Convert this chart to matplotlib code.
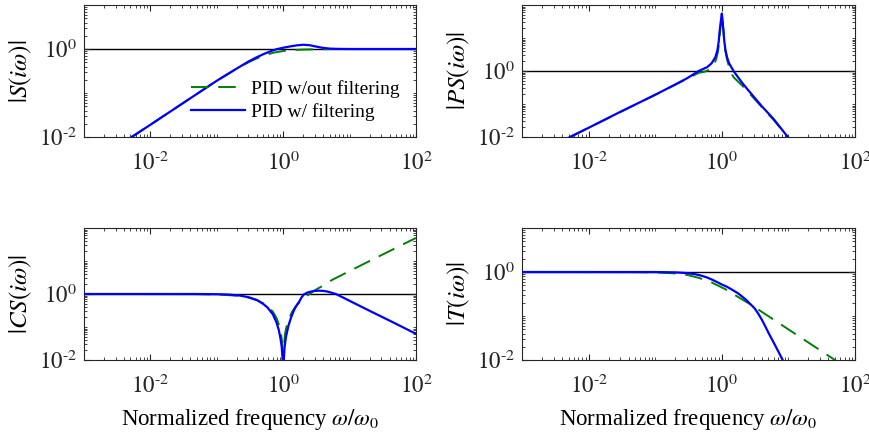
import matplotlib
matplotlib.use("Agg")
import matplotlib.pyplot as plt
from matplotlib.ticker import LogLocator, NullFormatter, FixedLocator, FuncFormatter
import math

plt.rcParams['font.family'] = ['Liberation Serif', 'DejaVu Serif']
plt.rcParams['mathtext.fontset'] = 'stix'

# ---------------- data ----------------
# |S(iw)|
w_S_f = [0.001, 0.005, 0.01, 0.02, 0.05, 0.1, 0.2, 0.3, 0.4, 0.5, 0.6, 0.7, 0.8,
         1.0, 1.3, 1.6, 2.0, 2.5, 3.0, 3.5, 4.0, 5.0, 7.0, 10, 100]
S_f = [0.0019, 0.0096, 0.019, 0.038, 0.095, 0.19, 0.36, 0.52, 0.65, 0.76, 0.85, 0.93, 0.99,
       1.07, 1.15, 1.21, 1.25, 1.22, 1.15, 1.1, 1.06, 1.02, 1.005, 1.0, 1.0]
w_S_n = [0.001, 0.01, 0.05, 0.1, 0.2, 0.3, 0.4, 0.5, 0.7, 1.0, 1.5, 2, 3, 5, 10, 100]
S_n = [0.0019, 0.019, 0.095, 0.19, 0.36, 0.50, 0.61, 0.70, 0.82, 0.90, 0.95, 0.97, 0.985, 0.995, 1.0, 1.0]

# |PS(iw)|
w_PS_f = [0.001, 0.01, 0.03, 0.1, 0.2, 0.3, 0.45, 0.6, 0.7, 0.8, 0.86, 0.9, 0.93, 0.96, 0.98,
          1.0, 1.02, 1.04, 1.06, 1.09, 1.135, 1.2, 1.29, 1.5, 2.0, 2.5, 4.0, 6.0, 9.8, 15]
PS_f = [0.0019, 0.019, 0.058, 0.19, 0.39, 0.6, 1.0, 1.3, 1.7, 2.6, 4.3, 8, 17, 28, 40,
        55, 40, 24, 17, 8, 4.3, 2.6, 1.7, 1.0, 0.45, 0.26, 0.085, 0.035, 0.01, 0.004]
w_PS_n = [0.001, 0.01, 0.1, 0.3, 0.45, 0.55, 0.65, 0.75, 0.82, 0.88, 0.93, 0.97, 1.0,
          1.03, 1.07, 1.12, 1.2, 1.35, 1.5, 2.0, 2.5, 4.0, 6.0, 9.8, 15]
PS_n = [0.0019, 0.019, 0.19, 0.58, 0.88, 0.95, 1.1, 1.5, 2.2, 4, 12, 30, 50,
        30, 12, 4.5, 2.2, 0.95, 0.65, 0.37, 0.23, 0.08, 0.033, 0.01, 0.004]

# |CS(iw)|
w_CS_f = [0.001, 0.01, 0.05, 0.1, 0.15, 0.22, 0.3, 0.4, 0.5, 0.58, 0.7, 0.79, 0.86, 0.91,
          0.95, 0.975, 0.99, 1.0, 1.01, 1.025, 1.05, 1.1, 1.2, 1.32, 1.46, 1.6, 1.75, 1.9,
          2.05, 2.3, 2.6, 3.0, 3.5, 4.0, 4.5, 5.3, 6.2, 8.0, 10, 20, 50, 100]
CS_f = [1.0, 1.0, 0.998, 0.985, 0.96, 0.9, 0.8, 0.66, 0.5, 0.39, 0.24, 0.14, 0.08, 0.045,
        0.025, 0.012, 0.005, 0.001, 0.005, 0.012, 0.025, 0.05, 0.11, 0.2, 0.33, 0.46, 0.6, 0.8,
        0.97, 1.1, 1.18, 1.24, 1.26, 1.24, 1.2, 1.1, 1.0, 0.78, 0.62, 0.31, 0.125, 0.062]
w_CS_n = [0.001, 0.05, 0.1, 0.2, 0.3, 0.4, 0.5, 0.6, 0.7, 0.8, 0.87, 0.93, 0.97, 0.99, 1.0,
          1.01, 1.03, 1.07, 1.13, 1.2, 1.35, 1.5, 1.74, 2.05, 2.5, 3.0, 3.9, 5.5, 8.7, 20, 50, 100]
CS_n = [1.0, 0.995, 0.97, 0.89, 0.78, 0.65, 0.52, 0.4, 0.29, 0.18, 0.11, 0.06, 0.03, 0.01, 0.001,
        0.01, 0.03, 0.065, 0.11, 0.16, 0.28, 0.39, 0.55, 0.76, 1.0, 1.3, 1.75, 2.7, 4.3, 10, 25, 50]

# |T(iw)|
w_T_f = [0.001, 0.1, 0.2, 0.3, 0.4, 0.5, 0.6, 0.7, 0.87, 1.0, 1.2, 1.45, 1.74, 2.0, 2.3, 2.7,
         3.1, 3.5, 4.0, 4.5, 5.0, 6.0, 7.0, 8.2, 10]
T_f = [1.0, 0.998, 0.98, 0.945, 0.89, 0.82, 0.75, 0.68, 0.58, 0.52, 0.46, 0.39, 0.33, 0.28, 0.235, 0.185,
       0.15, 0.115, 0.082, 0.058, 0.042, 0.025, 0.016, 0.01, 0.0055]
w_T_n = [0.001, 0.05, 0.1, 0.2, 0.3, 0.46, 0.7, 1.12, 2.0, 2.75, 4.0, 6.2, 13.8, 39, 60]
T_n = [1.0, 0.995, 0.98, 0.93, 0.86, 0.73, 0.58, 0.41, 0.24, 0.18, 0.124, 0.08, 0.036, 0.0128, 0.0083]

panels = [
    dict(wf=w_S_f, f=S_f, wn=w_S_n, n=S_n, ylabel=r'$|S(i\omega)|$', ylim=(1e-2, 1e1)),
    dict(wf=w_PS_f, f=PS_f, wn=w_PS_n, n=PS_n, ylabel=r'$|PS(i\omega)|$', ylim=(1e-2, 1e2)),
    dict(wf=w_CS_f, f=CS_f, wn=w_CS_n, n=CS_n, ylabel=r'$|CS(i\omega)|$', ylim=(1e-2, 1e2)),
    dict(wf=w_T_f, f=T_f, wn=w_T_n, n=T_n, ylabel=r'$|T(i\omega)|$', ylim=(1e-2, 1e1)),
]
x_ticks = [1e-2, 1e0, 1e2]
y_ticks = [1e-2, 1e0]
xlim = (1e-3, 1e2)
label_nofilt = 'PID w/out filtering'
label_filt = 'PID w/ filtering'
xlabel = r'Normalized frequency $\omega/\omega_0$'


def fmt(v, pos):
    e = int(round(math.log10(v)))
    if e < 0:
        return r'$10^{\text{-}%d}$' % (-e)
    return r'$10^{%d}$' % e


W, H = 870, 434
fig = plt.figure(figsize=(W / 100, H / 100), dpi=100)
rects = [(84, 5, 416, 137), (522, 5, 855, 137), (84, 228, 416, 360), (522, 228, 855, 360)]

FS = 16.5
LFS = 14
YFS = 18
for i, (p, r) in enumerate(zip(panels, rects)):
    l, t, rr, b = r
    ax = fig.add_axes([l / W, 1 - b / H, (rr - l) / W, (b - t) / H])
    ax.set_xscale('log')
    ax.set_yscale('log')
    ax.axhline(1.0, color='black', lw=1.0, zorder=1)
    ln_n, = ax.plot(p['wn'], p['n'], color='#008000', lw=1.4, dashes=(9, 5), label=label_nofilt, zorder=2)
    ln_f, = ax.plot(p['wf'], p['f'], color='#0000ff', lw=1.6, label=label_filt, zorder=3)
    ax.set_xlim(*xlim)
    ax.set_ylim(*p['ylim'])
    ax.xaxis.set_major_locator(FixedLocator(x_ticks))
    ax.yaxis.set_major_locator(FixedLocator(y_ticks))
    ax.xaxis.set_major_formatter(FuncFormatter(fmt))
    ax.yaxis.set_major_formatter(FuncFormatter(fmt))
    ax.xaxis.set_minor_locator(LogLocator(base=10, subs=range(1, 10), numticks=20))
    ax.yaxis.set_minor_locator(LogLocator(base=10, subs=range(1, 10), numticks=20))
    ax.xaxis.set_minor_formatter(NullFormatter())
    ax.yaxis.set_minor_formatter(NullFormatter())
    ax.tick_params(which='both', direction='in', top=True, right=True, labelsize=FS,
                   colors='#262626')
    ax.tick_params(which='major', length=4, width=0.8)
    ax.tick_params(which='minor', length=2, width=0.6)
    ax.tick_params(axis='x', which='major', pad=11)
    ax.tick_params(axis='y', which='major', pad=5)
    for s in ax.spines.values():
        s.set_color('#262626')
        s.set_linewidth(0.8)
    ax.set_ylabel(p['ylabel'], fontsize=YFS)
    ax.yaxis.set_label_coords(-0.15, 0.5)
    if i >= 2:
        ax.set_xlabel(xlabel, fontsize=FS, labelpad=6)
    if i == 0:
        ax.legend(handles=[ln_n, ln_f], loc='lower right', bbox_to_anchor=(0.975, 0.06),
                  frameon=False, fontsize=LFS, handlelength=2.8, handletextpad=0.3,
                  labelspacing=0.3, borderaxespad=0)

fig.savefig('out.png', dpi=100)
